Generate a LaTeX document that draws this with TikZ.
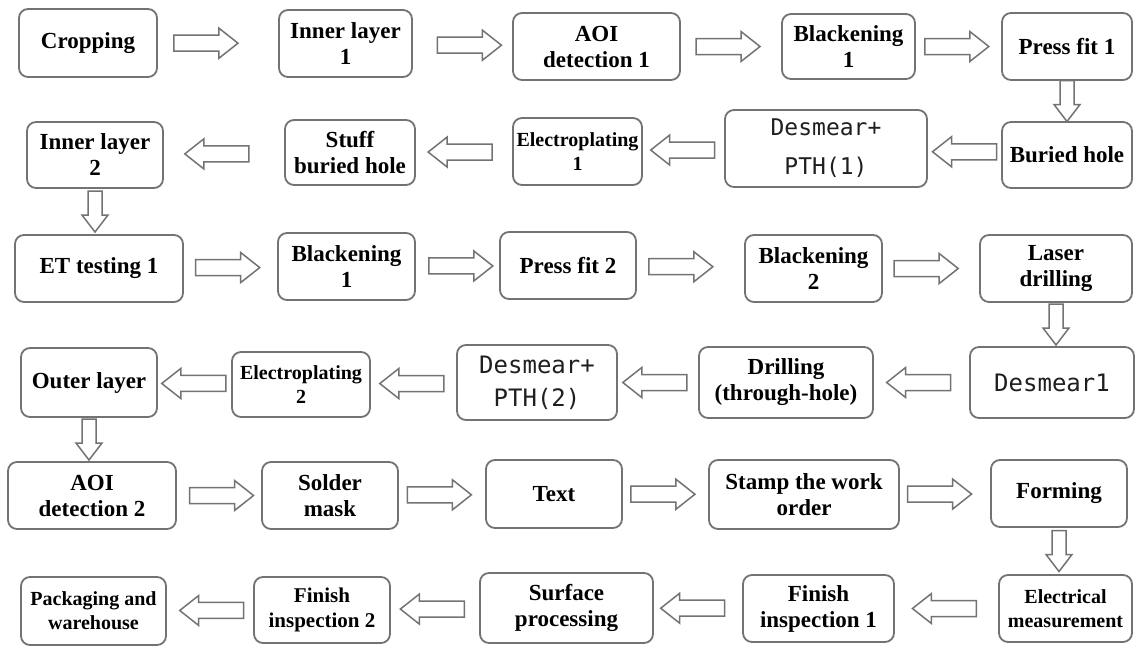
\documentclass[tikz,border=0pt]{standalone}
\usepackage{fontspec}
\setmainfont{Liberation Serif}
\newfontfamily\dmono{DejaVu Sans Mono}
\tikzset{
 box/.style={draw=black!55, line width=1.8pt, rounded corners=9pt, fill=white, align=center, inner sep=0pt, font=\fontsize{23}{26}\selectfont\bfseries},
 small/.style={font=\fontsize{20}{24}\selectfont\bfseries},
 mid/.style={font=\fontsize{21}{25}\selectfont\bfseries},
 monoA/.style={font=\fontsize{23}{39}\selectfont\dmono, text=black!88},
 monoB/.style={font=\fontsize{24}{33}\selectfont\dmono, text=black!88},
 blk/.style={draw=black!55, line width=1.5pt, fill=white, line join=miter},
}
\newcommand\bx[7]{\node[box,#6,minimum width={(#3-#2)*1pt},minimum height={(#5-#4)*1pt}] (#1) at ({(#2+#3)/2},{(#4+#5)/2}) {#7};}
\newcommand\rarr[3]{\path (#2.east) -- (#3.west) coordinate[pos=#1] (ac);
 \draw[blk] ([shift={(-32,-8)}]ac) -- ++(45,0) -- ++(0,-7) -- ++(19,15) -- ++(-19,15) -- ++(0,-7) -- ++(-45,0) -- cycle;}
\newcommand\larr[3]{\path (#2.west) -- (#3.east) coordinate[pos=#1] (ac);
 \draw[blk] ([shift={(32,-8)}]ac) -- ++(-45,0) -- ++(0,-7) -- ++(-19,15) -- ++(19,15) -- ++(0,-7) -- ++(45,0) -- cycle;}
\newcommand\darr[2]{\path (#1.south) -- (#1.south |- #2.north) coordinate[pos=0.5] (ac);
 \draw[blk] ([shift={(-7,-20.5)}]ac) -- ++(0,24) -- ++(-6,0) -- ++(13,17) -- ++(13,-17) -- ++(-6,0) -- ++(0,-24) -- cycle;}
\begin{document}
\begin{tikzpicture}[x=1pt,y=-1pt]
\useasboundingbox[fill=white] (0,0) rectangle (1135,646);
% row 1
\bx{c1}{19}{157}{9}{77}{}{Cropping}
\bx{i1}{279}{412}{10}{77}{}{Inner layer\\1}
\bx{a1}{513}{680}{13}{80}{}{AOI\\detection 1}
\bx{b1}{782}{915}{14}{79}{}{Blackening\\1}
\bx{p1}{1002}{1132}{13}{80}{}{Press fit 1}
% row 2
\bx{bh}{1002}{1132}{122}{188}{}{Buried hole}
\bx{d1}{725}{927}{110}{187}{monoA}{Desmear+\\PTH(1)}
\bx{e1}{513}{642}{118}{185}{small}{Electroplating\\1}
\bx{sb}{285}{415}{120}{185}{}{Stuff\\buried hole}
\bx{i2}{27}{163}{122}{188}{}{Inner layer\\2}
% row 3
\bx{et}{15}{183}{235}{302}{}{ET testing 1}
\bx{b3}{278}{415}{233}{300}{}{Blackening\\1}
\bx{p2}{500}{636}{232}{299}{}{Press fit 2}
\bx{k2}{745}{882}{235}{302}{}{Blackening\\2}
\bx{ld}{980}{1132}{235}{302}{}{Laser\\drilling}
% row 4
\bx{ds}{970}{1134}{347}{418}{monoB}{Desmear1}
\bx{dr}{699}{873}{347}{418}{}{Drilling\\(through-hole)}
\bx{d2}{457}{617}{345}{420}{monoB}{Desmear+\\PTH(2)}
\bx{e2}{232}{370}{352}{417}{small}{Electroplating\\2}
\bx{ol}{21}{157}{348}{417}{}{Outer layer}
% row 5
\bx{a2}{8}{176}{462}{529}{}{AOI\\detection 2}
\bx{sm}{262}{398}{462}{529}{}{Solder\\mask}
\bx{tx}{486}{622}{460}{528}{}{Text}
\bx{st}{709}{899}{460}{529}{}{Stamp the work\\order}
\bx{fm}{991}{1127}{460}{527}{}{Forming}
% row 6
\bx{em}{999}{1132}{575}{642}{small}{Electrical\\measurement}
\bx{f1}{743}{894}{575}{642}{}{Finish\\inspection 1}
\bx{sp}{480}{653}{573}{643}{}{Surface\\processing}
\bx{f2}{254}{390}{577}{643}{mid}{Finish\\inspection 2}
\bx{pk}{21}{166}{577}{645}{small}{Packaging and\\warehouse}
% arrows
\rarr{0.40}{c1}{i1}\rarr{0.57}{i1}{a1}\rarr{0.47}{a1}{b1}\rarr{0.48}{b1}{p1}
\darr{p1}{bh}
\larr{0.50}{bh}{d1}\larr{0.51}{d1}{e1}\larr{0.54}{e1}{sb}\larr{0.56}{sb}{i2}
\darr{i2}{et}
\rarr{0.47}{et}{b3}\rarr{0.54}{b3}{p2}\rarr{0.41}{p2}{k2}\rarr{0.45}{k2}{ld}
\darr{ld}{ds}
\larr{0.53}{ds}{dr}\larr{0.54}{dr}{d2}\larr{0.52}{d2}{e2}\larr{0.51}{e2}{ol}
\darr{ol}{a2}
\rarr{0.53}{a2}{sm}\rarr{0.47}{sm}{tx}\rarr{0.47}{tx}{st}\rarr{0.44}{st}{fm}
\darr{fm}{em}
\larr{0.52}{em}{f1}\larr{0.56}{f1}{sp}\larr{0.53}{sp}{f2}\larr{0.48}{f2}{pk}
\end{tikzpicture}
\end{document}
